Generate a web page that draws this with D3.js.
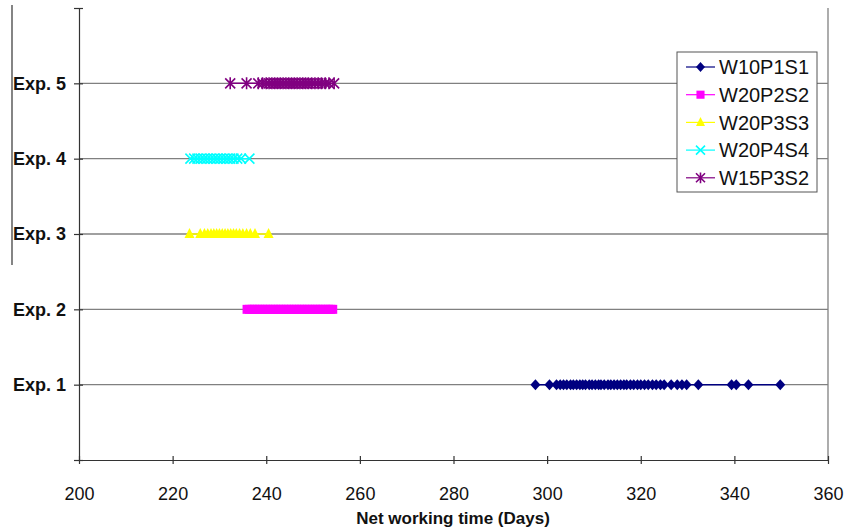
<!DOCTYPE html>
<html><head><meta charset="utf-8">
<script src="https://cdn.jsdelivr.net/npm/d3@7"></script>
<style>body{margin:0;background:#fff}svg{display:block}</style>
</head><body>
<svg id="c" width="847" height="532"></svg>
<script>
const categories = ["Exp. 1","Exp. 2","Exp. 3","Exp. 4","Exp. 5"];
const seriesNames = ["W10P1S1","W20P2S2","W20P3S3","W20P4S4","W15P3S2"];
const seriesColors = ["#000080","#ff00ff","#ffff00","#00ffff","#800080"];
const xTicks = [200,220,240,260,280,300,320,340,360];
const exp1 = [297.5,300.5,302,302.8,303.5,304.2,305,305.6,306.3,307,307.6,308.2,309,309.6,310.3,311,311.5,312.2,313,313.6,314.3,315,315.7,316.4,317,317.8,318.5,319.3,320,320.8,321.6,322.5,323.3,324.2,325,326.5,327.8,328.8,329.8,332.3,339.4,340.4,343,349.8];
const exp2 = [235.9,236.4,237,237.5,238.1,238.6,239.2,239.8,240.3,240.9,241.5,242,242.6,243.1,243.7,244.3,244.8,245.4,246,246.5,247.1,247.6,248.2,248.8,249.3,249.9,250.5,251,251.6,252.1,252.7,253.3,253.8,254.2];
const exp3 = [223.6,225.9,226.8,227.5,228.2,228.8,229.4,230,230.6,231.2,231.8,232.4,233,233.6,234.3,235,235.8,236.6,237.6,240.5];
const exp4 = [223.8,224.6,225.3,226,226.7,227.4,228.1,228.8,229.5,230.2,230.9,231.6,232.3,233,233.8,234.6,236.4];
const exp5 = [232.3,235.8,238.3,239.2,240,240.6,241.2,241.8,242.4,243,243.6,244.2,244.8,245.4,246,246.6,247.2,247.8,248.4,249,249.7,250.4,251.1,251.8,252.6,253.4,254.5];
const seriesValues = [exp1,exp2,exp3,exp4,exp5];

const svg = d3.select("#c");
const L=79,R=828,T=8,B=460;
const x = d3.scaleLinear().domain([200,360]).range([L,R]);
const y = d3.scaleLinear().domain([0,6]).range([B,T]);
const font = "'Liberation Sans', Arial, sans-serif";

svg.append("g").selectAll("line").data(d3.range(1,6)).join("line")
  .attr("x1",L).attr("x2",R).attr("y1",d=>y(d)).attr("y2",d=>y(d))
  .attr("stroke","#808080").attr("stroke-width",1.3);
svg.append("line").attr("x1",R).attr("x2",R).attr("y1",T).attr("y2",B).attr("stroke","#808080").attr("stroke-width",1.3);
svg.append("line").attr("x1",12).attr("x2",12).attr("y1",5).attr("y2",265).attr("stroke","#333").attr("stroke-width",1.2);

const xAxis = svg.append("g").attr("transform",`translate(0,${B})`)
  .call(d3.axisBottom(x).tickValues(xTicks).tickSize(5).tickSizeOuter(0));
xAxis.selectAll(".tick line").attr("y1",-4).attr("y2",4);
xAxis.selectAll("text").attr("y",27).style("font-family",font).style("font-size","18px").attr("fill","#111");
const yAxis = svg.append("g").attr("transform",`translate(${L},0)`)
  .call(d3.axisLeft(y).tickValues(d3.range(0,7)).tickFormat(()=>"").tickSize(5).tickSizeOuter(0));
yAxis.selectAll(".tick line").attr("x1",-5).attr("x2",4);
svg.selectAll(".domain").attr("stroke","#333").attr("stroke-width",1.2);
svg.selectAll(".tick line").attr("stroke","#333").attr("stroke-width",1.2);

svg.append("g").selectAll("text").data(categories).join("text")
  .attr("x",66).attr("y",(d,i)=>y(i+1)).attr("dy","0.36em").attr("text-anchor","end")
  .style("font-family",font).style("font-size","18px").style("font-weight","bold").attr("fill","#111")
  .text(d=>d);

svg.append("text").attr("x",453).attr("y",524).attr("text-anchor","middle")
  .style("font-family",font).style("font-size","17px").style("font-weight","bold").attr("fill","#111")
  .text("Net working time (Days)");

function marker(g,k,cx,cy,col,s){
  if(k===0){ g.append("path").attr("d",`M${cx},${cy-s*1.1}L${cx+s},${cy}L${cx},${cy+s*1.1}L${cx-s},${cy}Z`).attr("fill",col); }
  else if(k===1){ g.append("rect").attr("x",cx-s*0.9).attr("y",cy-s*0.9).attr("width",s*1.8).attr("height",s*1.8).attr("fill",col); }
  else if(k===2){ g.append("path").attr("d",`M${cx},${cy-s*1.2}L${cx+s},${cy+s*0.8}L${cx-s},${cy+s*0.8}Z`).attr("fill",col); }
  else if(k===3){ g.append("path").attr("d",`M${cx-s},${cy-s}L${cx+s},${cy+s}M${cx-s},${cy+s}L${cx+s},${cy-s}`).attr("stroke",col).attr("stroke-width",1.6); }
  else { g.append("path").attr("d",`M${cx-s},${cy-s}L${cx+s},${cy+s}M${cx-s},${cy+s}L${cx+s},${cy-s}M${cx},${cy-s*1.2}L${cx},${cy+s*1.2}`).attr("stroke",col).attr("stroke-width",1.6); }
}

seriesValues.forEach((vals,k)=>{
  const g = svg.append("g");
  const cy = y(k+1);
  const sorted = vals.slice().sort((a,b)=>a-b);
  g.append("line").attr("x1",x(sorted[0])).attr("x2",x(sorted[sorted.length-1]))
    .attr("y1",cy).attr("y2",cy).attr("stroke",seriesColors[k]).attr("stroke-width",1.5);
  vals.forEach(v=>marker(g,k,x(v),cy,seriesColors[k],5));
});

const lg = svg.append("g");
lg.append("rect").attr("x",677).attr("y",52).attr("width",140).attr("height",140)
  .attr("fill","#fff").attr("stroke","#555").attr("stroke-width",1);
seriesNames.forEach((n,k)=>{
  const ly = 67 + k*27.7;
  lg.append("line").attr("x1",686).attr("x2",715).attr("y1",ly).attr("y2",ly).attr("stroke",seriesColors[k]).attr("stroke-width",1.2);
  marker(lg,k,700.5,ly,seriesColors[k],4.5);
  lg.append("text").attr("x",719).attr("y",ly).attr("dy","0.36em")
    .style("font-family",font).style("font-size","20px").attr("fill","#111").text(n);
});
</script>
</body></html>
